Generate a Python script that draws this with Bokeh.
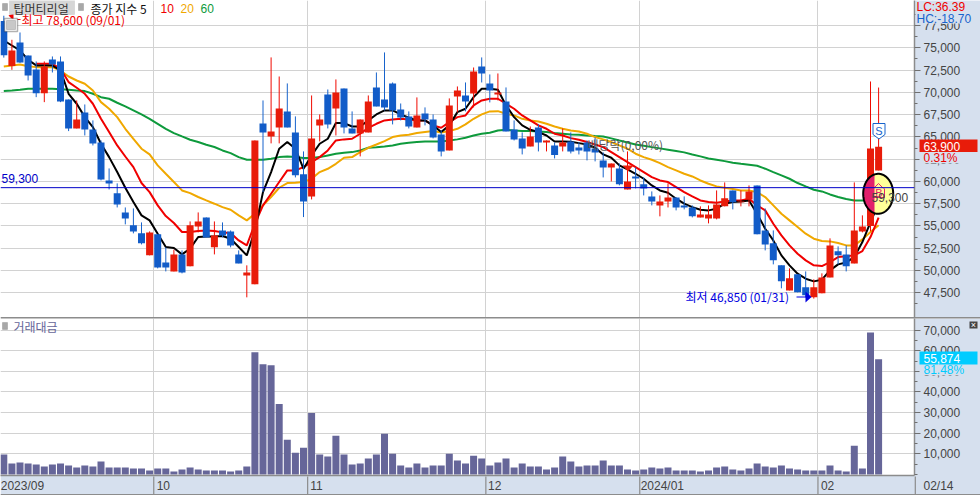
import numpy as np
from bokeh.plotting import figure
from bokeh.layouts import column
from bokeh.models import Range1d, FixedTicker, NumeralTickFormatter, Label, BoxAnnotation, Span, ColumnDataSource
from bokeh.embed import file_html
from bokeh.resources import INLINE

nan = float("nan")
opens = [78000,72950,75600,74140,72570,69900,73690,73470,69200,65950,67740,65840,64380,60115,58660,56520,55070,54170,51700,54060,50900,49900,51810,50470,54950,55960,52600,54500,54390,51810,49450,48450,66510,65050,66060,67860,65500,60820,58320,66290,69760,68190,70440,65950,65390,65500,70550,69200,71000,68080,67300,66060,67630,66960,65280,63480,69540,69650,69880,72910,71000,69760,68980,65840,64830,63930,66060,64380,64040,63930,64490,63820,64380,63710,62360,61570,61460,59100,60560,59670,58320,57310,57760,58210,57310,57080,55960,55850,55850,57200,58990,57650,57980,59550,54500,53050,50580,47770,49570,48110,46990,47440,49230,52150,51810,50800,54390,55000,61240]
highs = [78600,75900,76720,74140,73470,73470,74030,74030,69200,69090,68640,66850,64600,61460,59780,57080,56970,55400,54390,54060,52600,52340,52260,55510,56520,55960,55510,55400,54500,52260,50580,64600,69090,73920,71780,71000,67300,63370,69650,67520,70320,71450,70440,67860,66960,69650,72230,74480,71110,68750,67860,69430,68310,67520,65720,69320,70660,71110,72790,73920,72010,72120,70550,66850,65500,66170,66400,64600,64380,65950,65500,64380,64600,64940,63260,62020,62020,63370,61570,60450,58880,58430,59780,58210,58320,57310,57200,57310,58990,59890,58990,58990,59550,59550,56970,54500,50580,50240,49570,49900,49010,49680,53610,52710,52820,59890,56190,71220,70540]
lows = [73900,72530,73300,71330,69460,68900,72230,68900,65650,65950,65160,64040,60115,59100,57080,55180,54170,52930,51700,50240,49900,49900,49680,50470,54280,53720,51810,53720,52600,50800,46990,48450,58800,64270,64270,66060,60450,56000,57980,64490,65950,65160,65390,65390,62810,65500,68420,67970,66400,66850,65950,66060,66290,64830,62810,63480,67740,67860,68310,71110,68870,69090,65610,64600,63030,63930,63370,63370,62580,63370,63140,63030,62360,62250,60450,60000,59560,59100,59220,58430,57310,56080,57080,56750,56860,55960,55960,55290,55740,57200,56860,57200,57200,54060,52260,50690,48000,47770,47550,46990,46850,47440,49230,50690,49900,50800,54280,54400,61240]
closes = [74150,74700,73350,71900,69900,72900,73130,68980,65950,66960,65840,64270,60230,59780,57420,55850,54390,53050,54280,50350,50350,51810,49790,55070,55510,53720,53940,53940,52820,50800,49790,64600,65500,65610,68190,66060,60680,57760,64830,66960,66400,69990,66060,65390,66960,68980,68420,68310,67970,67180,66170,67410,66960,64940,63370,68530,70210,68980,72340,72120,70210,69990,65610,64720,63710,65050,64380,64600,62970,64380,63370,63480,63370,63260,61570,62020,59670,60000,60340,59220,57760,57760,58210,57080,57080,56080,56300,56300,57420,58100,57650,57760,58880,54060,52930,51140,48790,49120,47550,47210,48110,49230,52820,51700,50470,54500,54950,63710,63900]
ma5 = [75820,75260,74700,73650,73020,73000,73000,72460,69840,68720,67220,66100,64230,62730,61050,59290,57680,56190,55630,54130,52640,52520,51810,52450,53760,53830,53830,53870,53570,52640,51700,54500,58800,61050,63670,64420,63670,61420,62920,64230,64790,66550,66550,66170,66170,66850,67520,67970,67970,67520,67150,66850,66850,66290,65540,66290,67780,68160,69460,70400,70400,70290,68530,67220,66290,65800,65540,65160,64490,64490,64450,64300,64150,63780,63030,62660,61800,61350,60860,60300,59550,58990,58730,58060,57500,57120,56820,56750,56940,57500,57680,57760,57870,56380,54690,53380,51700,50580,49640,49080,48780,48970,50020,50690,50910,51510,53200,55440,57500]
ma10 = [nan,nan,nan,nan,73200,73200,73200,72640,71150,70510,69840,68720,67030,65540,64040,62800,61610,59820,58800,57310,56110,55330,54320,54320,54430,54500,54430,54280,54210,53380,52820,55250,57310,58620,59930,61240,61240,61610,62170,62730,63480,64600,64720,64790,65350,66020,66470,66850,66960,67030,66960,66850,66850,66290,66020,66660,67220,67410,68530,69090,69280,69280,68720,68160,67410,66850,66290,65910,65350,65160,64860,64680,64420,64150,63850,63290,62730,62170,61610,61050,60490,60110,59930,59370,58800,58320,57870,57680,57610,57760,57870,57870,58060,57310,56750,55250,53940,52820,51890,51140,50580,50500,50950,51510,51590,51700,52190,53760,55930]
ma20 = [72900,73020,73130,72940,72830,72830,72830,72460,71780,71330,70960,70210,68900,68160,67220,65910,64790,63670,63030,61800,60860,59930,58990,58690,58250,57870,57500,57120,56820,56190,55630,56370,57310,58250,59290,59820,59850,59930,60300,61050,61420,61980,62660,62730,63290,63780,64150,64530,64980,65160,65240,65430,65540,65650,65500,65650,65910,66400,67030,67520,67860,67890,67590,67410,67030,66850,66730,66470,66170,65910,65720,65610,65350,64980,64720,64420,64040,63670,63110,62730,62430,62060,61610,61240,60860,60560,60110,59740,59440,59290,59140,58990,58990,58800,58250,57310,56370,55630,54880,54130,53570,53310,53270,53080,52820,52820,53490,54320,55070]
ma60 = [70140,70210,70290,70400,70400,70400,70400,70360,70290,70210,70140,69840,69460,69280,68830,68420,67970,67520,67030,66470,65910,65430,65050,64680,64420,64120,63860,63480,63180,62730,62430,62430,62430,62550,62730,62810,62730,62620,62620,62730,62920,63110,63220,63290,63480,63780,63850,63930,64040,64230,64340,64420,64490,64490,64490,64600,64720,64900,65160,65350,65460,65720,65800,65720,65650,65650,65610,65540,65430,65350,65270,65240,65160,65090,65050,64830,64600,64380,64150,64000,63850,63710,63560,63410,63260,63030,62810,62580,62430,62280,62100,61980,61870,61760,61430,61050,60680,60300,59820,59440,59070,58880,58540,58250,58020,57870,57870,57900,58000]
volume = [9640,5300,5780,5300,4820,3850,4820,5300,4340,3370,4340,3850,6260,3370,3370,3370,2890,2890,1930,2890,2890,1450,2410,3370,2410,1930,1930,1930,1450,1930,3850,59260,53480,53000,34210,16860,10600,13010,29870,9640,8670,18790,9640,4820,5300,7710,9640,19750,10120,4340,3370,5300,3370,4340,4340,10120,6750,5300,9150,7710,4340,5780,7710,3370,5300,3850,3850,2410,3370,8670,6260,3850,4340,4340,6750,4340,4340,2410,1930,2410,3370,2890,3370,1930,1930,1930,1450,1930,3370,3850,2410,1930,2890,5300,3850,3370,4340,2890,2410,1930,1930,1930,4340,1930,1450,13970,2890,68900,55874]
month_edges = [18.5, 37.5, 59.5, 78.5, 100.5]
month_labels = {2.3: "2023/09", 19.7: "10", 38.6: "11", 60.6: "12", 81.3: "2024/01", 101.7: "02"}
price_ticks = list(range(47500, 80000, 2500))
price_minor = list(range(46250, 80000, 2500))
vol_ticks = list(range(10000, 80000, 10000))
vol_minor = list(range(0, 80000, 10000)) + [5000 + v for v in range(0, 70000, 10000)]

RED, BLUE = "#E81C0A", "#125CC8"
BAND = "#D6E0EE"
GRID = "#D2D2D2"
FONT = "Liberation Sans"
KR = "Noto Sans CJK KR"

PX = 8.1; X0 = 3.3
def dx(px): return (px - X0) / PX
def py(y): return 75000 - (y - 47.3) * 112.25
def vy(y): return (475 - y) / 0.002076

xr = (dx(0), dx(914))
x = list(range(len(closes)))
up = [c >= o for o, c in zip(opens, closes)]
src = ColumnDataSource(dict(x=x, top=[max(o, c) for o, c in zip(opens, closes)], bottom=[min(o, c) for o, c in zip(opens, closes)],
    high=highs, low=lows, fill=[RED if u else BLUE for u in up], wick=["#F00A00" if u else "#1763CC" for u in up]))

p = figure(width=980, height=318, x_range=Range1d(*xr), y_range=Range1d(py(317), py(0)), y_axis_location="right",
           output_backend="svg", toolbar_location=None, min_border_left=0, min_border_right=66, min_border_top=0, min_border_bottom=1,
           border_fill_color=BAND, background_fill_color="white", outline_line_color=None)
p.xaxis.visible = False
p.xgrid.ticker = FixedTicker(ticks=month_edges)
p.ygrid.ticker = FixedTicker(ticks=price_ticks)
for g in (p.xgrid[0], p.ygrid[0]):
    g.grid_line_color = GRID; g.grid_line_width = 1

def style_y(ax, ticks, minor):
    ax.ticker = FixedTicker(ticks=ticks, minor_ticks=minor)
    ax.formatter = NumeralTickFormatter(format="0,0")
    ax.axis_line_color = "#8C8C8C"; ax.axis_line_width = 1.5
    ax.major_tick_line_color = "#707070"; ax.minor_tick_line_color = "#707070"
    ax.major_tick_out = 6; ax.major_tick_in = 0; ax.minor_tick_out = 3; ax.minor_tick_in = 0
    ax.major_label_text_color = "#444444"; ax.major_label_text_font = FONT
    ax.major_label_text_font_size = "12px"; ax.major_label_standoff = 3
style_y(p.yaxis[0], price_ticks, price_minor)

p.add_layout(Span(location=59300, dimension="width", line_color="#0000C8", line_width=1))

for arr, col in ((ma60, "#0E9A3C"), (ma20, "#F0A800"), (ma10, "#F00000"), (ma5, "#000000")):
    p.line(x, arr, line_color=col, line_width=2)

p.segment("x", "high", "x", "low", source=src, line_color="wick", line_width=1)
p.vbar("x", width=7 / PX, top="top", bottom="bottom", source=src, fill_color="fill", line_color=None)

# sell triangle on the dividend day
p.patch([dx(622), dx(633), dx(627.5)], [py(165), py(165), py(171)], fill_color="#E81C0A", line_color=None)

# S marker
p.patch([dx(872.5), dx(884.5), dx(884.5), dx(878.5), dx(872.5)], [py(123), py(123), py(134), py(138.5), py(134)],
        fill_color="white", line_color="#1763CC", line_width=1)

# event circle
t = np.linspace(0, 2 * np.pi, 80)
cx, cy = dx(877.7), py(193.3)
ex = cx + 15 / PX * np.cos(t)
ey = cy + 20 * 112.25 * np.sin(t)
split = dx(874)
p.patch(list(ex), list(ey), fill_color="#FFFF99", line_color=None)
p.patch(list(np.minimum(ex, split)), list(ey), fill_color="#E2206C", line_color=None)
p.line(list(ex), list(ey), line_color="black", line_width=2)

# B marker
p.line([dx(873), dx(878), dx(883)], [py(188), py(183), py(188)], line_color="#E8206A", line_width=1)
p.line([dx(873), dx(873), dx(884), dx(884)], [py(188), py(197), py(197), py(188)], line_color="#E8206A", line_width=1)

# arrows
p.line([dx(796), dx(806)], [py(296.5), py(296.5)], line_color="#0000E0", line_width=1)
p.patch([dx(805), dx(811), dx(805)], [py(291), py(296.5), py(302)], fill_color="#0000E0", line_color=None)
p.line([dx(9), dx(20)], [py(19), py(19)], line_color="#F00000", line_width=1)
p.patch([dx(8), dx(13), dx(13)], [py(15), py(13), py(20)], fill_color="#F00000", line_color=None)

def lab(fig, yf, px, y, text, color, size=12, font=FONT, align="left"):
    fig.add_layout(Label(x=dx(px), y=yf(y), text=text, text_color=color, text_font=font, text_font_size=f"{size}px",
                         text_align=align, text_baseline="middle"))

def box(fig, yf, l, t_, r, b, fill, line=None, lw=1):
    fig.add_layout(BoxAnnotation(left=dx(l), right=dx(r), top=yf(t_), bottom=yf(b), fill_color=fill, fill_alpha=1,
                                 line_color=line, line_width=lw, level="annotation"))

box(p, py, 4, 18, 17, 31, "white", "black", 1.5)
box(p, py, 6, 20, 15, 29, "#C8C8C8", "#707070", 1)
box(p, py, 9, 0, 74, 14, "#D6D6D6", "#B4B4B4", 1)
box(p, py, 2, 3, 7, 10, "#A8A8A8", "#707070", 1)
box(p, py, 78, 3, 83, 10, "#A8A8A8", "#707070", 1)
lab(p, py, 13, 7.5, "탑머티리얼", "#333333", 12, KR)
lab(p, py, 90, 7.5, "종가 지수 5", "#111111", 12, KR)
lab(p, py, 160, 7.5, "10", "#F00000", 12)
lab(p, py, 180, 7.5, "20", "#F0A800", 12)
lab(p, py, 200, 7.5, "60", "#0E9A3C", 12)
lab(p, py, 21, 19, "최고 78,600 (09/01)", "#F00000", 12, KR)
lab(p, py, 685, 296, "최저 46,850 (01/31)", "#0000E0", 12, KR)
lab(p, py, 1, 178, "59,300", "#0000C8", 12)
lab(p, py, 587, 144, "배당락(0,00%)", "#555555", 12, KR)
lab(p, py, 878.5, 130.5, "S", "#1763CC", 11, FONT, "center")
lab(p, py, 878.5, 192, "B", "#E8206A", 11, FONT, "center")
lab(p, py, 871, 197, "59,300", "#444444", 12)

v = figure(width=980, height=177, x_range=Range1d(*xr), y_range=Range1d(vy(476), vy(318)), y_axis_location="right",
           output_backend="svg", toolbar_location=None, min_border_left=0, min_border_right=66, min_border_top=0, min_border_bottom=19,
           border_fill_color=BAND, background_fill_color="white", outline_line_color=None)
v.xgrid.ticker = FixedTicker(ticks=month_edges)
v.ygrid.ticker = FixedTicker(ticks=vol_ticks)
for g in (v.xgrid[0], v.ygrid[0]):
    g.grid_line_color = GRID; g.grid_line_width = 1
style_y(v.yaxis[0], vol_ticks, vol_minor)
v.vbar(x, width=7 / PX, top=volume, bottom=0, fill_color="#666699", line_color=None)

ax = v.xaxis[0]
ax.ticker = FixedTicker(ticks=list(month_labels.keys()), minor_ticks=[])
ax.major_label_overrides = month_labels
ax.major_tick_line_color = None
ax.minor_tick_line_color = None
ax.major_tick_out = 0; ax.major_tick_in = 0; ax.minor_tick_out = 0; ax.minor_tick_in = 0
ax.axis_line_color = "#8C8C8C"; ax.axis_line_width = 1.5
ax.major_label_text_color = "#444444"; ax.major_label_text_font = FONT; ax.major_label_text_font_size = "12px"
ax.major_label_standoff = 3

box(v, vy, 2, 322, 7, 329, "#A8A8A8", "#707070", 1)
lab(v, vy, 13, 326, "거래대금", "#666699", 12, KR)

# transparent sheet over the whole page, in page pixels, for what lies outside the plot frames
o = figure(width=980, height=495, x_range=Range1d(0, 980), y_range=Range1d(495, 0), x_axis_location=None, y_axis_location=None,
           output_backend="svg", toolbar_location=None, min_border_left=0, min_border_right=0, min_border_top=0, min_border_bottom=0,
           border_fill_alpha=0, background_fill_alpha=0, outline_line_color=None, margin=(-495, 0, 0, 0))
o.grid.visible = False

def olab(px, y, text, color, size=12, font=FONT, align="left"):
    o.add_layout(Label(x=px, y=y, text=text, text_color=color, text_font=font, text_font_size=f"{size}px",
                       text_align=align, text_baseline="middle"))

def obox(l, t_, r, b, fill, line=None, lw=1):
    o.add_layout(BoxAnnotation(left=l, right=r, top=t_, bottom=b, fill_color=fill, fill_alpha=1,
                               line_color=line, line_width=lw, level="annotation"))

obox(915, 0, 980, 23, BAND)
olab(916, 6, "LC:36.39", "#F00000")
olab(916, 18, "HC:-18.70", "#1763CC")
obox(919, 151, 977, 163, BAND)
obox(919, 139, 977, 151.5, "#E81C0A")
olab(923, 145.5, "63,900", "white")
olab(923, 157, "0.31%", "#F00000")
obox(0, 316.6, 980, 317.9, "#8C8C8C")
obox(919, 363, 977, 375, BAND)
obox(919, 351, 977, 364, "#00CCFF")
olab(923, 357.5, "55,874", "white")
olab(923, 369, "81.48%", "#00CCFF")
obox(969, 321, 977, 328, "#444444")
olab(973, 324.5, "×", "white", 9, FONT, "center")
obox(914.2, 476, 915.4, 494, "#8C8C8C")
for edge in month_edges:
    sx = X0 + edge * PX
    obox(sx - 0.5, 476, sx + 0.7, 494, "#8C8C8C")
olab(923, 485.5, "02/14", "#444444")
obox(0, 493.6, 980, 495, "#8C8C8C")

page = column(p, v, spacing=0)
open("out.html", "w").write(file_html([page, o], INLINE))
